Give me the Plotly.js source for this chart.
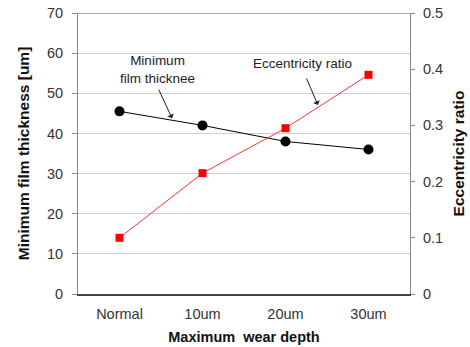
<!DOCTYPE html>
<html><head><meta charset="utf-8">
<script src="https://cdn.plot.ly/plotly-3.0.1.min.js"></script>
<style>html,body{margin:0;padding:0;background:#fff}#c{width:470px;height:347px}</style>
</head><body><div id="c"></div>
<script>
const categories = ["Normal", "10um", "20um", "30um"];
const filmThickness = [45.5, 42, 38, 36];
const eccentricity = [0.10, 0.215, 0.295, 0.39];
const leftTicks = [0, 10, 20, 30, 40, 50, 60, 70];
const rightTicks = [0, 0.1, 0.2, 0.3, 0.4, 0.5];
const rightTickText = ["0", "0.1", "0.2", "0.3", "0.4", "0.5"];

const font = "Liberation Sans, Arial, sans-serif";
const traces = [
  {x: categories, y: filmThickness, type: "scatter", mode: "lines+markers",
   line: {color: "#000", width: 1}, marker: {symbol: "circle", size: 10, color: "#000"},
   name: "Minimum film thickness", xaxis: "x", yaxis: "y"},
  {x: categories, y: eccentricity, type: "scatter", mode: "lines+markers",
   line: {color: "#ff3030", width: 1}, marker: {symbol: "square", size: 8, color: "#ff0000"},
   name: "Eccentricity ratio", xaxis: "x", yaxis: "y2"}
];
const layout = {
  width: 470, height: 347,
  margin: {l: 78, r: 60, t: 13, b: 53},
  showlegend: false,
  paper_bgcolor: "#fff", plot_bgcolor: "#fff",
  font: {family: font, size: 14, color: "#333"},
  xaxis: {type: "category", range: [-0.5, 3.5], showgrid: false,
    showline: true, linecolor: "#444", linewidth: 1.5, ticks: "", zeroline: false,
    ticklabelstandoff: 6,
    tickfont: {size: 14.5, color: "#333"},
    title: {text: "<b>Maximum  wear depth</b>", font: {size: 14.5, color: "#111"}, standoff: 11}},
  yaxis: {range: [0, 70], tickvals: leftTicks, showgrid: true, gridcolor: "#d0d0d0", gridwidth: 1,
    showline: true, linecolor: "#888", ticks: "outside", ticklen: 5, tickcolor: "#888",
    ticklabelstandoff: 6,
    zeroline: false, tickfont: {size: 14.5, color: "#333"},
    title: {text: "<b>Minimum film thickness [um]</b>", font: {size: 15.5, color: "#111"}, standoff: 13}},
  yaxis2: {range: [0, 0.5], overlaying: "y", side: "right", tickvals: rightTicks, ticktext: rightTickText,
    showgrid: false, showline: true, linecolor: "#888", ticks: "outside", ticklen: 4, tickcolor: "#888",
    ticklabelstandoff: 5,
    zeroline: false, tickfont: {size: 14.5, color: "#333"},
    title: {text: "<b>Eccentricity ratio</b>", font: {size: 15.5, color: "#111"}, standoff: 11}},
  shapes: [
    {type: "line", xref: "paper", yref: "y", x0: 0, x1: 1, y0: 70, y1: 70, line: {color: "#555", width: 1.2}}
  ],
  annotations: [
    {x: 0.452, y: 56.05, xref: "x", yref: "y", text: "Minimum<br>film thicknee", showarrow: false,
     font: {size: 13.5, color: "#222", family: font}},
    {x: 0.633, y: 43.8, xref: "x", yref: "y", ax: -14, ay: -30, showarrow: true, text: "",
     arrowhead: 1, arrowsize: 1.2, arrowwidth: 1, arrowcolor: "#222"},
    {x: 2.21, y: 57.5, xref: "x", yref: "y", text: "Eccentricity ratio", showarrow: false,
     font: {size: 13.5, color: "#222", family: font}},
    {x: 2.39, y: 47.1, xref: "x", yref: "y", ax: -12, ay: -28, showarrow: true, text: "",
     arrowhead: 1, arrowsize: 1.2, arrowwidth: 1, arrowcolor: "#222"}
  ]
};
Plotly.newPlot("c", traces, layout, {staticPlot: true, displayModeBar: false});
</script></body></html>
